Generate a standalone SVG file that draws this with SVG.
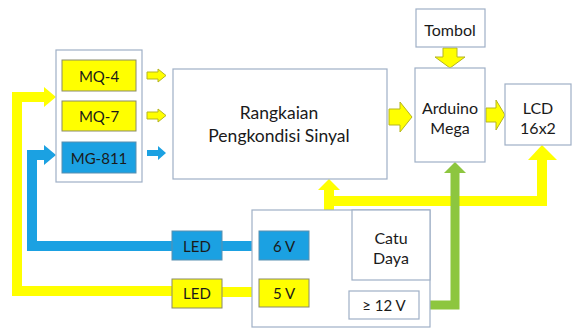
<svg xmlns="http://www.w3.org/2000/svg" width="572" height="329" viewBox="0 0 572 329">
<style>
.box{fill:#fff;stroke:#9fb0c6;stroke-width:1.2}
.ybox{fill:#ffff00;stroke:#8a8a6a;stroke-width:1}
.bbox{fill:#1ba1e2;stroke:#5a8fb0;stroke-width:1}
.t{font-family:Lato,"Open Sans",sans-serif;fill:#1a1a1a;text-anchor:middle;dominant-baseline:central}
.s14{font-size:15px}
.s16{font-size:16px}
.s17{font-size:17.5px}
.yarr{fill:#ffff00;stroke:#b5b520;stroke-width:1}
.barr{fill:#1ba1e2}
.yl{fill:none;stroke:#ffff00;stroke-width:10}
.bl{fill:none;stroke:#1ba1e2;stroke-width:10}
.gl{fill:none;stroke:#8dc63f;stroke-width:9}
</style>
<g id="connectors">
<path class="yl" d="M172 291 H17 V97 H45"/>
<polygon fill="#ffff00" points="44,87 56,97 44,107"/>
<path class="bl" d="M172 246 H32 V155 H45"/>
<polygon fill="#1ba1e2" points="44,145 56,155 44,165"/>
<path class="bl" d="M222 246 H259"/>
<path class="yl" d="M222 292 H259"/>
<path class="yl" d="M309 292 H329 V189"/>
<polygon fill="#ffff00" points="318,190 329,179 340,190"/>
<path class="yl" d="M329 201 H542 V159"/>
<polygon fill="#ffff00" points="528,160 542,145 557,160"/>
<path class="gl" d="M419 305 H455 V172"/>
<polygon fill="#8dc63f" points="444,173 455,162 466,173"/>
<polygon class="yarr" points="147,72 158,72 158,69 166,75.5 158,82 158,79 147,79"/>
<polygon class="yarr" points="147,112 158,112 158,109 166,115.5 158,122 158,119 147,119"/>
<polygon class="barr" points="147,150 158,150 158,146 166,153 158,160 158,156 147,156"/>
<polygon class="yarr" points="389,109 400,109 400,102 412,117 400,132 400,125 389,125"/>
<polygon class="yarr" points="486,108 496,108 496,100 505,115 496,130 496,122 486,122"/>
<polygon class="yarr" points="443,48 457,48 457,57 465,57 450,68 435,57 443,57"/>
</g>
<g id="sensors">
<rect class="box" x="56" y="50" width="86" height="132"/>
</g>
<g id="mq4"><rect class="ybox" x="62" y="60" width="74" height="31"/><text class="t s14" x="99" y="76">MQ-4</text></g>
<g id="mq7"><rect class="ybox" x="62" y="101" width="74" height="30"/><text class="t s14" x="99" y="116">MQ-7</text></g>
<g id="mg811"><rect class="bbox" x="62" y="142" width="74" height="31"/><text class="t s14" x="99" y="158">MG-811</text></g>
<g id="rangkaian"><rect class="box" x="173" y="69" width="214" height="110"/><text class="t s17" x="279" y="112">Rangkaian</text><text class="t s17" x="279" y="135">Pengkondisi Sinyal</text></g>
<g id="tombol"><rect class="box" x="416" y="9" width="69" height="38"/><text class="t s16" x="450" y="29">Tombol</text></g>
<g id="arduino"><rect class="box" x="415" y="68" width="70" height="94"/><text class="t s16" x="450" y="107">Arduino</text><text class="t s16" x="450" y="127">Mega</text></g>
<g id="lcd"><rect class="box" x="505" y="84" width="66" height="61"/><text class="t s16" x="538" y="107">LCD</text><text class="t s16" x="538" y="127">16x2</text></g>
<g id="catudaya">
<rect class="box" x="252" y="210" width="178" height="117"/>
<rect class="box" x="352" y="210" width="78" height="70"/>
<text class="t s16" x="391" y="237">Catu</text><text class="t s16" x="391" y="257">Daya</text>
</g>
<g id="v6"><rect class="bbox" x="259" y="231" width="50" height="29"/><text class="t s14" x="284" y="246">6 V</text></g>
<g id="v5"><rect class="ybox" x="259" y="279" width="50" height="28"/><text class="t s14" x="284" y="293">5 V</text></g>
<g id="v12"><rect class="box" x="349" y="291" width="70" height="28"/><text class="t s14" x="384" y="305">≥ 12 V</text></g>
<g id="ledblue"><rect class="bbox" x="172" y="231" width="50" height="29"/><text class="t s14" x="197" y="246">LED</text></g>
<g id="ledyellow"><rect class="ybox" x="172" y="279" width="50" height="29"/><text class="t s14" x="197" y="293">LED</text></g>
</svg>
